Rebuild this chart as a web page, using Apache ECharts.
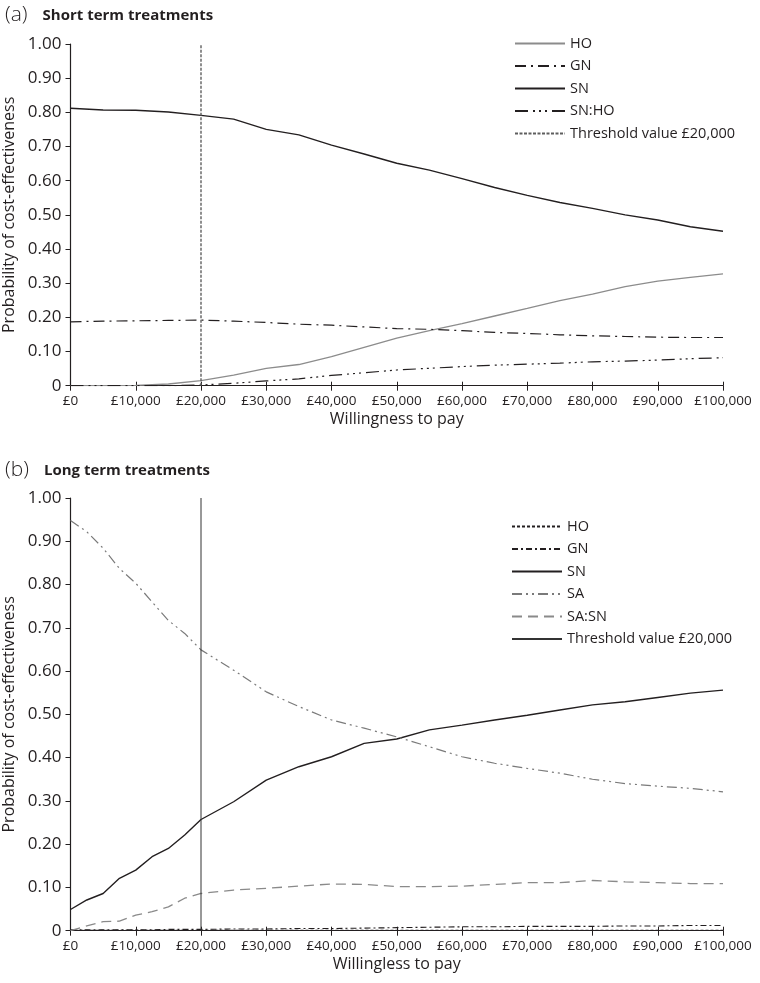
<!DOCTYPE html>
<html>
<head>
<meta charset="utf-8">
<title>Cost-effectiveness acceptability curves</title>
<script src="https://cdn.jsdelivr.net/npm/echarts@6/dist/echarts.min.js"></script>
<style>
  html, body { margin: 0; padding: 0; background: #fff; }
  #chart { width: 760px; height: 983px; }
</style>
</head>
<body>
<div id="chart"></div>
<script>
// willingness to pay (£) sampled along the x axis
let wtpA = [0, 5000, 10000, 15000, 20000, 25000, 30000, 35000, 40000, 45000, 50000,
  55000, 60000, 65000, 70000, 75000, 80000, 85000, 90000, 95000, 100000]
let wtpB = [0, 2500, 5000, 7500, 10000, 12500, 15000, 17500, 20000, 25000, 30000, 35000, 40000,
  45000, 50000, 55000, 60000, 65000, 70000, 75000, 80000, 85000, 90000, 95000, 100000]

// (a) short term treatments
let hoA = [0, 0, 0.001, 0.005, 0.015, 0.031, 0.051, 0.062, 0.085, 0.112, 0.139,
  0.161, 0.182, 0.204, 0.226, 0.249, 0.268, 0.29, 0.306, 0.317, 0.327]
let gnA = [0.187, 0.189, 0.19, 0.191, 0.192, 0.189, 0.185, 0.18, 0.177, 0.172, 0.167,
  0.165, 0.161, 0.156, 0.153, 0.149, 0.146, 0.144, 0.142, 0.141, 0.141]
let snA = [0.812, 0.807, 0.806, 0.801, 0.791, 0.78, 0.75, 0.734, 0.704, 0.678, 0.651,
  0.631, 0.606, 0.58, 0.557, 0.536, 0.519, 0.5, 0.485, 0.465, 0.452]
let snhoA = [0, 0, 0, 0, 0.002, 0.007, 0.014, 0.02, 0.03, 0.038, 0.046,
  0.051, 0.056, 0.06, 0.063, 0.066, 0.07, 0.072, 0.075, 0.079, 0.082]

// (b) long term treatments
let hoB = [0.001, 0.001, 0.001, 0.001, 0.001, 0.001, 0.001, 0.001, 0.001, 0.001, 0.001, 0.001, 0.001,
  0.001, 0.001, 0.001, 0.001, 0.001, 0.001, 0.001, 0.001, 0.001, 0.001, 0.001, 0.001]
let gnB = [0.002, 0.002, 0.002, 0.002, 0.002, 0.002, 0.003, 0.003, 0.003, 0.004, 0.004, 0.005, 0.005,
  0.006, 0.007, 0.008, 0.009, 0.009, 0.01, 0.01, 0.01, 0.011, 0.011, 0.012, 0.012]
let snB = [0.049, 0.071, 0.086, 0.121, 0.14, 0.171, 0.19, 0.221, 0.257, 0.298, 0.348, 0.379, 0.402,
  0.433, 0.443, 0.464, 0.475, 0.487, 0.498, 0.51, 0.522, 0.529, 0.539, 0.549, 0.556]
let saB = [0.948, 0.922, 0.884, 0.837, 0.803, 0.76, 0.717, 0.687, 0.649, 0.602, 0.552, 0.518, 0.487,
  0.468, 0.448, 0.425, 0.402, 0.387, 0.375, 0.364, 0.35, 0.34, 0.334, 0.329, 0.321]
let sasnB = [0, 0.011, 0.021, 0.022, 0.036, 0.044, 0.055, 0.075, 0.086, 0.094, 0.098, 0.103, 0.108,
  0.107, 0.102, 0.102, 0.103, 0.107, 0.111, 0.111, 0.116, 0.113, 0.111, 0.109, 0.109]

let threshold = 20000
let thresholdLabel = 'Threshold value £20,000'

const font = 'Open Sans'
const ink = '#231f20'

function pairs(xs, ys) {
  return xs.map(function(x, i) { return [x, ys[i]] })
}

function curve(name, idx, xs, ys, color, type, width) {
  return {
    name: name,
    type: 'line',
    xAxisIndex: idx,
    yAxisIndex: idx,
    data: pairs(xs, ys),
    symbol: 'none',
    silent: true,
    itemStyle: { color: color, opacity: 0 },
    lineStyle: { color: color, type: type, width: width || 1.2 }
  }
}

function xAxisFor(idx, name) {
  return {
    type: 'value',
    gridIndex: idx,
    min: 0,
    max: 100000,
    interval: 10000,
    name: name,
    nameLocation: 'middle',
    nameGap: 26,
    nameTextStyle: { fontFamily: font, fontSize: 16, color: ink },
    axisLine: { lineStyle: { color: ink, width: 1.2 } },
    axisTick: { length: 5, lineStyle: { color: ink } },
    axisLabel: {
      fontFamily: font, fontSize: 13.5, color: ink, margin: 8,
      formatter: function(v) { return '£' + v.toLocaleString('en-GB') }
    },
    splitLine: { show: false }
  }
}

// second axis on the same grid, only to draw the upper half of the crossing ticks
function tickOverlay(idx) {
  return {
    type: 'value',
    gridIndex: idx,
    position: 'bottom',
    min: 0,
    max: 100000,
    interval: 10000,
    axisLine: { show: true, lineStyle: { color: ink, opacity: 0 } },
    axisTick: { show: true, inside: true, length: 4, lineStyle: { color: ink, opacity: 1 } },
    axisLabel: { show: false },
    splitLine: { show: false }
  }
}

function yAxisFor(idx) {
  return {
    type: 'value',
    gridIndex: idx,
    min: 0,
    max: 1,
    interval: 0.1,
    name: 'Probability of cost-effectiveness',
    nameLocation: 'middle',
    nameGap: 52,
    nameTextStyle: { fontFamily: font, fontSize: 16, color: ink },
    axisLine: { show: true, lineStyle: { color: ink, width: 1.2 } },
    axisTick: { show: true, length: 5, lineStyle: { color: ink } },
    axisLabel: {
      fontFamily: font, fontSize: 17, color: ink, margin: 9,
      formatter: function(v) { return v === 0 ? '0' : v.toFixed(2) }
    },
    splitLine: { show: false }
  }
}

function legendFor(top, left, names) {
  return {
    orient: 'vertical',
    top: top,
    left: left,
    itemWidth: 50,
    itemHeight: 14,
    itemGap: 7.5,
    selectedMode: false,
    data: names,
    itemStyle: { opacity: 0 },
    formatter: function(name) { return name.replace(/^[ab]-/, '') },
    textStyle: { fontFamily: font, fontSize: 14.5, color: ink, padding: [0, 0, 0, 0] }
  }
}

function panelTitle(top, tag, text) {
  return {
    left: 0,
    top: top,
    text: '{t|' + tag + '}   {b|' + text + '}',
    textStyle: {
      rich: {
        t: { fontFamily: font, fontSize: 21, fontWeight: 300, color: ink },
        b: { fontFamily: font, fontSize: 15, fontWeight: 'bold', color: ink }
      }
    }
  }
}

let chart = echarts.init(document.getElementById('chart'), null, { renderer: 'canvas' })

const option = {
  backgroundColor: '#fff',
  animation: false,
  title: [
    panelTitle(0, '(a)', 'Short term treatments'),
    panelTitle(455, '(b)', 'Long term treatments')
  ],
  legend: [
    legendFor(31, 509, ['a-HO', 'a-GN', 'a-SN', 'a-SN:HO', 'a-' + thresholdLabel]),
    legendFor(514, 506, ['b-HO', 'b-GN', 'b-SN', 'b-SA', 'b-SA:SN', 'b-' + thresholdLabel])
  ],
  grid: [
    { left: 70.5, right: 37, top: 44, height: 341.7, outerBoundsMode: 'none' },
    { left: 70.5, right: 37, top: 498, height: 432.7, outerBoundsMode: 'none' }
  ],
  xAxis: [
    xAxisFor(0, 'Willingness to pay'),
    xAxisFor(1, 'Willingless to pay'),
    tickOverlay(0),
    tickOverlay(1)
  ],
  yAxis: [yAxisFor(0), yAxisFor(1)],
  series: [
    curve('a-HO', 0, wtpA, hoA, '#8c8c8c', 'solid', 1.3),
    curve('a-GN', 0, wtpA, gnA, ink, [11, 5, 2, 5], 1.2),
    curve('a-SN', 0, wtpA, snA, ink, 'solid', 1.4),
    curve('a-SN:HO', 0, wtpA, snhoA, ink, [13, 5, 2, 4, 2, 4, 2, 5], 1.2),
    curve('a-' + thresholdLabel, 0, [threshold, threshold], [0, 1], '#5e5e5e', [3, 1.5], 1.4),

    curve('b-HO', 1, wtpB, hoB, ink, [3, 2], 1.1),
    curve('b-GN', 1, wtpB, gnB, ink, [6, 3, 2, 3], 1.1),
    curve('b-SN', 1, wtpB, snB, ink, 'solid', 1.4),
    curve('b-SA', 1, wtpB, saB, '#7a7a7a', [10, 4, 2, 4, 2, 4], 1.2),
    curve('b-SA:SN', 1, wtpB, sasnB, '#8a8a8a', [10, 6], 1.3),
    curve('b-' + thresholdLabel, 1, [threshold, threshold], [0, 1], '#333', 'solid', 1)
  ]
}

chart.setOption(option)
window.addEventListener('resize', function() {
  chart.resize()
})
</script>
</body>
</html>
